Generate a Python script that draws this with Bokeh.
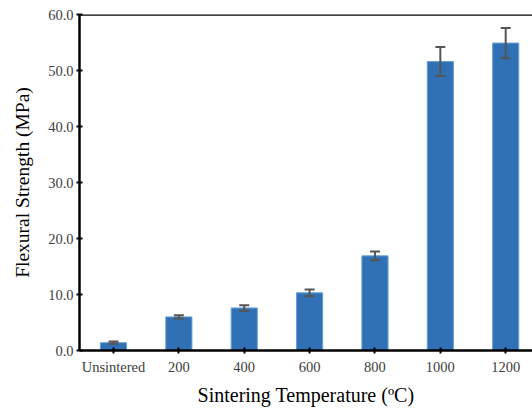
from bokeh.plotting import figure
from bokeh.models import ColumnDataSource, Range1d, FixedTicker, Whisker, Span
from bokeh.embed import file_html
from bokeh.resources import INLINE

categories = ["Unsintered", "200", "400", "600", "800", "1000", "1200"]
strength = [1.4, 6.0, 7.6, 10.3, 16.9, 51.6, 54.9]
error = [0.2, 0.3, 0.5, 0.6, 0.8, 2.6, 2.7]
y_ticks = [0, 10, 20, 30, 40, 50, 60]

xs = list(range(len(categories)))
src = ColumnDataSource(dict(
    x=xs, top=strength,
    upper=[s + e for s, e in zip(strength, error)],
    lower=[s - e for s, e in zip(strength, error)],
))

FONT = "Liberation Serif"

p = figure(width=532, height=408, output_backend="svg", toolbar_location=None,
           x_range=Range1d(-0.52, 6.41), y_range=Range1d(0, 60),
           min_border_left=79, min_border_right=0, min_border_top=14, min_border_bottom=57)
p.outline_line_color = None
p.grid.visible = False
p.background_fill_color = "white"

p.vbar(x="x", top="top", width=0.4, source=src, fill_color="#2F71B4",
       line_color="#6A9FD6", line_width=1)

w = Whisker(base="x", upper="upper", lower="lower", source=src,
            line_color="#555555", line_width=2, level="overlay")
for h in (w.upper_head, w.lower_head):
    h.size = 10
    h.line_color = "#555555"
    h.line_width = 2
p.add_layout(w)

p.add_layout(Span(location=60, dimension="width", line_color="black", line_width=2.5))

p.xaxis.ticker = FixedTicker(ticks=xs)
p.xaxis.major_label_overrides = {i: c for i, c in enumerate(categories)}
p.yaxis.ticker = FixedTicker(ticks=y_ticks)
p.yaxis.major_label_overrides = {v: f"{v:.1f}" for v in y_ticks}

for ax in (p.xaxis[0], p.yaxis[0]):
    ax.axis_line_width = 2.5
    ax.axis_line_color = "black"
    ax.major_tick_line_width = 2
    ax.major_tick_line_color = "black"
    ax.major_tick_in = 3
    ax.major_tick_out = 3
    ax.minor_tick_line_color = None
    ax.major_label_text_font = FONT
    ax.major_label_text_font_size = "14.5px"
    ax.major_label_text_color = "#404040"
    ax.axis_label_text_font = FONT
    ax.axis_label_text_font_style = "normal"
    ax.axis_label_text_color = "black"

p.xaxis.axis_label = "Sintering Temperature (ºC)"
p.yaxis.axis_label = "Flexural Strength (MPa)"
p.xaxis.axis_label_text_font_size = "20px"
p.yaxis.axis_label_text_font_size = "19.5px"
p.xaxis.major_label_standoff = 5
p.xaxis.axis_label_standoff = 6
p.yaxis.major_label_standoff = 3
p.yaxis.axis_label_standoff = 12

open("out.html", "w").write(file_html(p, INLINE))
